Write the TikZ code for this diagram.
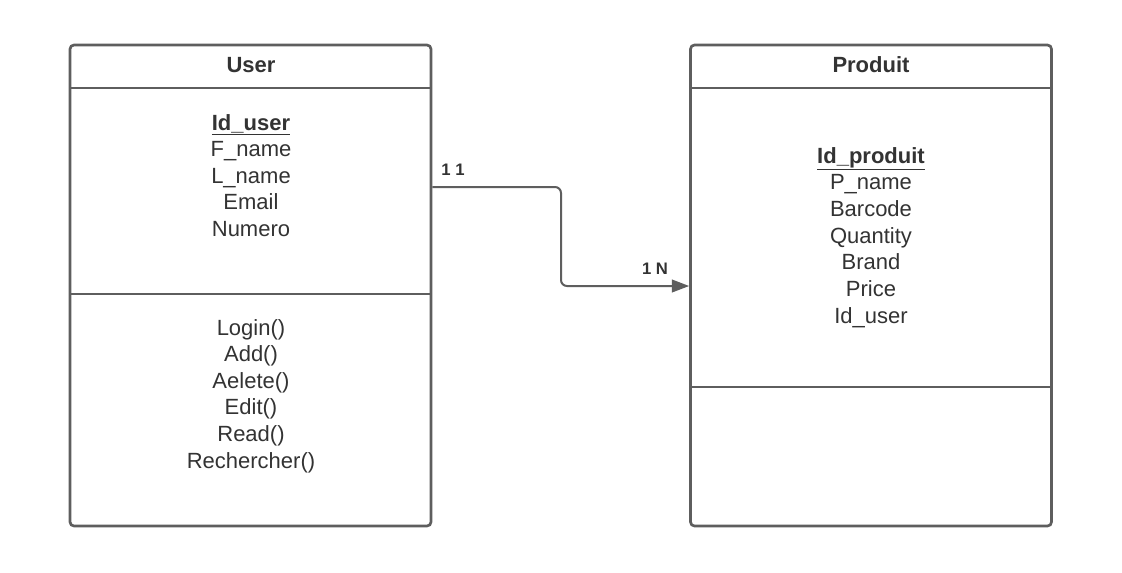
\documentclass[tikz,border=0pt]{standalone}
\usepackage{fontspec}
\setmainfont{Liberation Sans}
\usetikzlibrary{arrows.meta}

\definecolor{linegray}{HTML}{5E5E5E}
\definecolor{textgray}{HTML}{333333}

\tikzset{
    classbox/.style={draw=linegray, line width=2pt, rounded corners=3pt,
        minimum width=270.75pt, minimum height=360.75pt, inner sep=0pt},
    divider/.style={draw=linegray, line width=2pt},
    entry/.style={anchor=base, text=textgray, inner sep=0pt,
        font=\fontsize{16.5}{19.8}\selectfont},
    title/.style={entry, font=\fontsize{16.5}{19.8}\selectfont\bfseries},
    card/.style={text=textgray, inner sep=0pt,
        font=\fontsize{12.5}{15}\selectfont\bfseries},
    link/.style={draw=linegray, line width=1.5pt, rounded corners=4.5pt,
        -{Triangle[length=13pt, width=9.5pt]}}
}

\begin{document}
\begin{tikzpicture}[x=0.75pt, y=-0.75pt]
    % white background
    \fill[white] (0,0) rectangle (1122,572);
    \useasboundingbox (0,0) rectangle (1122,572);

    % draw class boxes
    \node[classbox] (user) at (250.5,285.5) {};
    \node[classbox] (produit) at (871,285.5) {};
    \draw[divider] (70,88) -- (431,88);
    \draw[divider] (70,294) -- (431,294);
    \draw[divider] (691,88) -- (1051,88);
    \draw[divider] (691,387) -- (1051,387);

    % add titles
    \node[title] (usertitle) at (251,72) {User};
    \node[title] (produittitle) at (871,72) {Produit};

    % add attributes and methods
    \node[title] (userkey) at (251,130) {\underline{Id\_user}};
    \foreach \txt [count=\k] in {F\_name, L\_name, Email, Numero}
        \node[entry] (userattr\k) at (251,130+26.5*\k) {\txt};
    \foreach \txt [count=\k] in {Login(), Add(), Aelete(), Edit(), Read(), Rechercher()}
        \node[entry] (usermeth\k) at (251,335+26.6*\k-26.6) {\txt};
    \node[title] (produitkey) at (871,163) {\underline{Id\_produit}};
    \foreach \txt [count=\k] in {P\_name, Barcode, Quantity, Brand, Price, Id\_user}
        \node[entry] (produitattr\k) at (871,163+26.67*\k) {\txt};

    % draw association
    \draw[link] (user.east |- 0,187) -| (561,286) -- (produit.west |- 0,286);
    \node[card] (cardsrc) at (453,170) {1 1};
    \node[card] (carddst) at (655,269) {1 N};
\end{tikzpicture}
\end{document}
